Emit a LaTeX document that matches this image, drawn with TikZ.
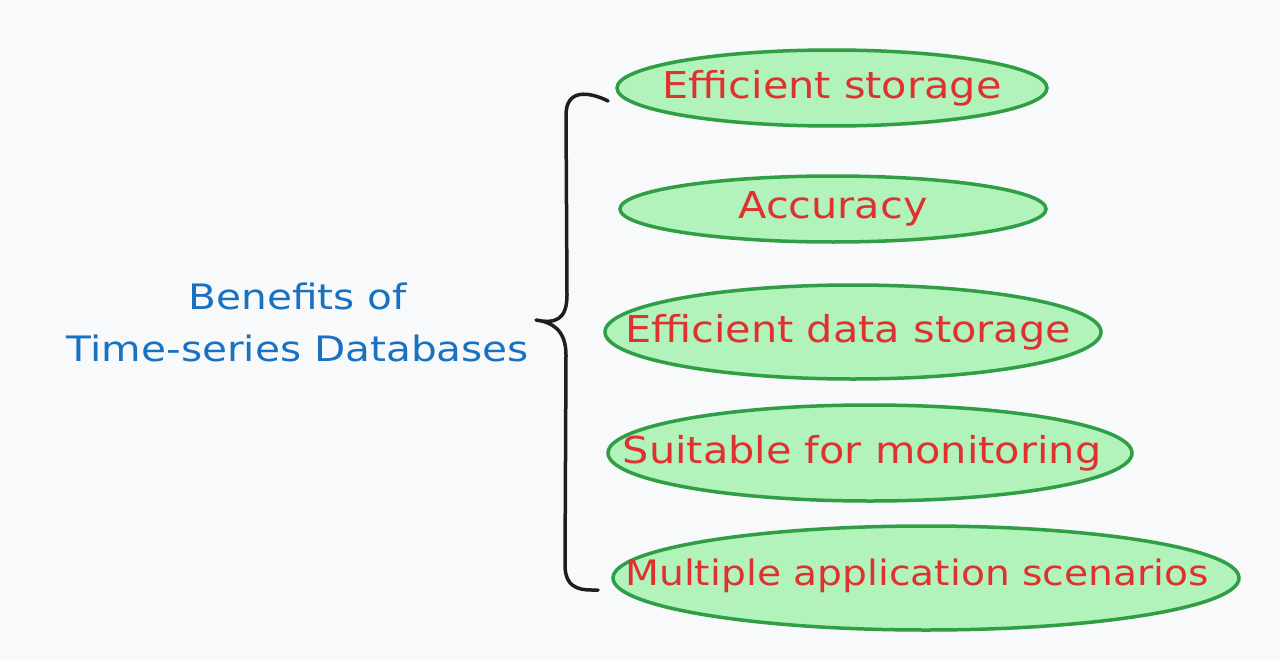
\documentclass[tikz,border=0pt]{standalone}
\usepackage{fontspec}
\setmainfont{DejaVu Sans}
\newfontfamily\handfont[FakeStretch=1.12]{DejaVu Sans}
\newfontfamily\titlefont[FakeStretch=1.16]{DejaVu Sans}
\usetikzlibrary{shapes.geometric}
\definecolor{bg}{HTML}{F8F9FA}
\definecolor{ellfill}{HTML}{B2F2BB}
\definecolor{ellstroke}{HTML}{2F9E44}
\definecolor{redtxt}{HTML}{E03131}
\definecolor{bluetxt}{HTML}{1971C2}
\definecolor{bracec}{HTML}{1E1E1E}
\begin{document}
\begin{tikzpicture}[x=1pt,y=-1pt,
  benefit/.style={ellipse, draw=ellstroke, fill=ellfill, line width=3.5pt, inner sep=0pt},
  btext/.style={text=redtxt, font=\handfont\fontsize{37}{44}\selectfont, inner sep=0pt},
  title/.style={text=bluetxt, font=\titlefont\fontsize{35}{52}\selectfont, align=center}]
\fill[bg] (0,0) rectangle (1280,661);
\useasboundingbox (0,0) rectangle (1280,661);
\node[benefit, minimum width=430pt, minimum height=76pt] (b1) at (832,88) {};
\node[benefit, minimum width=426pt, minimum height=66pt] (b2) at (833,209) {};
\node[benefit, minimum width=496pt, minimum height=94pt] (b3) at (853,332) {};
\node[benefit, minimum width=524pt, minimum height=96pt] (b4) at (870,453) {};
\node[benefit, minimum width=626pt, minimum height=104pt] (b5) at (926,578) {};
\node[btext] (l1) at (b1.center) {Efficient storage};
\node[btext] (l2) at (b2.center) {Accuracy};
\node[btext] (l3) at (848,332) {Efficient data storage};
\node[btext] (l4) at (862,453) {Suitable for monitoring};
\node[btext, font=\handfont\fontsize{35}{42}\selectfont] (l5) at (917,576) {Multiple application scenarios};
\node[title] (t) at (298,322) {Benefits of\\Time-series Databases};
\coordinate (bt) at (608,101);
\coordinate (bb) at (598,590);
\coordinate (tip) at (536,320);
\draw[bracec, line width=3.5pt, line cap=round, line join=round]
  (bt) .. controls (590,92) and (566,88) .. (566,115)
  -- (567,295) .. controls (567,320) and (555,324) .. (tip)
  .. controls (552,322) and (566,330) .. (566,355)
  -- (565,565) .. controls (565,592) and (585,590) .. (bb);
\end{tikzpicture}
\end{document}
